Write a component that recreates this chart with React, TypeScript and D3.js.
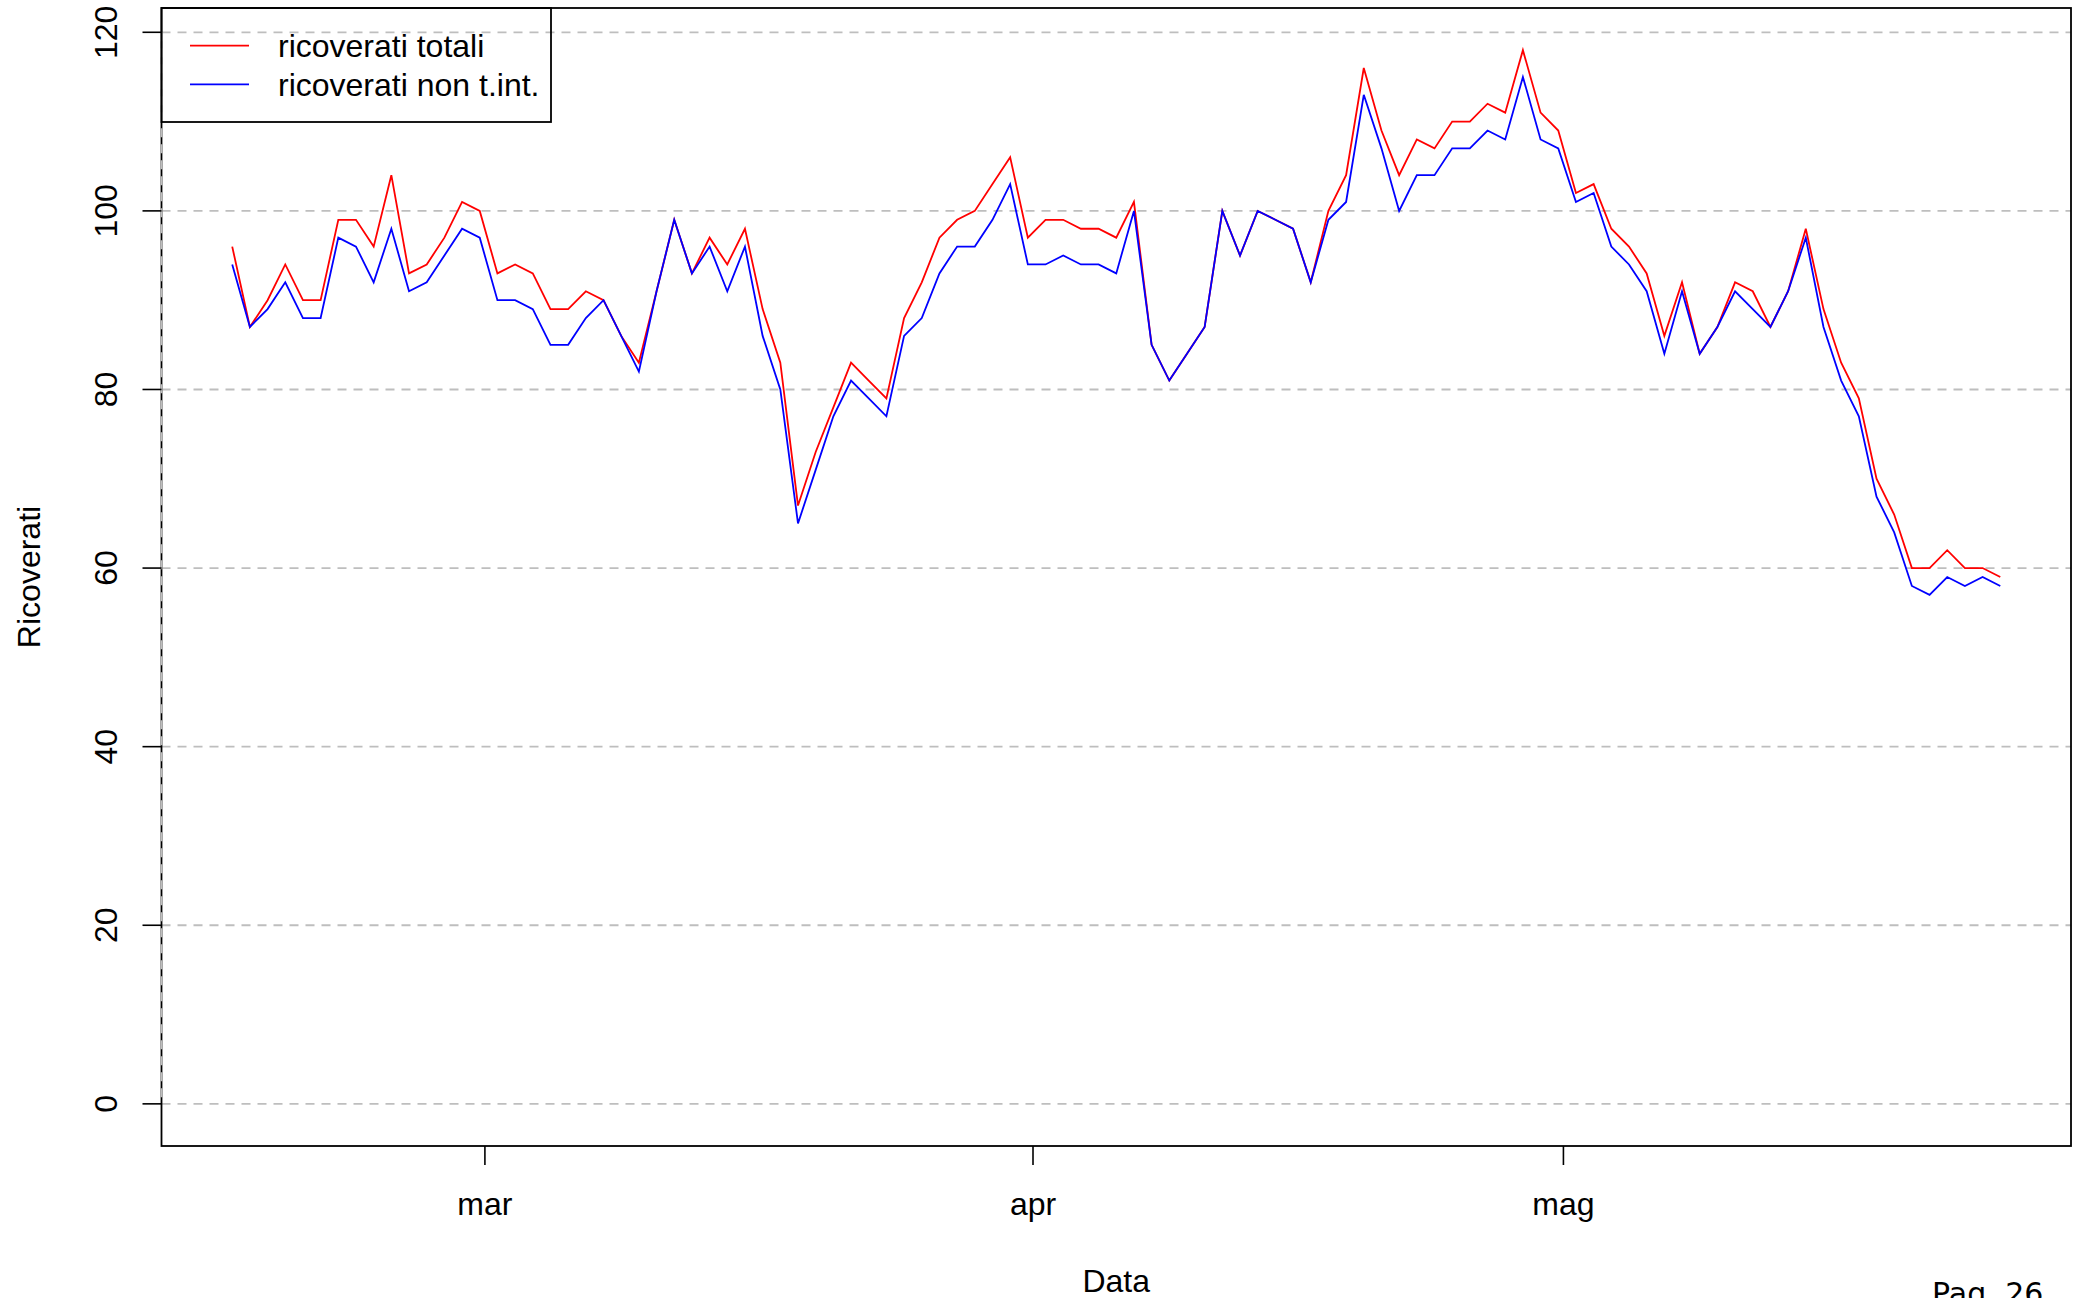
import React from "react";
import * as d3 from "d3";

// First observation: 14 Feb 2021, 17:00; one observation per day
const startDate = new Date(Date.UTC(2021, 1, 14, 17, 0, 0));

const ricoveratiTotali: number[] = [
  96, 87, 90, 94, 90, 90, 99, 99, 96, 104,
  93, 94, 97, 101, 100, 93, 94, 93, 89, 89,
  91, 90, 86, 83, 91, 99, 93, 97, 94, 98,
  89, 83, 67, 73, 78, 83, 81, 79, 88, 92,
  97, 99, 100, 103, 106, 97, 99, 99, 98, 98,
  97, 101, 85, 81, 84, 87, 100, 95, 100, 99,
  98, 92, 100, 104, 116, 109, 104, 108, 107, 110,
  110, 112, 111, 118, 111, 109, 102, 103, 98, 96,
  93, 86, 92, 84, 87, 92, 91, 87, 91, 98,
  89, 83, 79, 70, 66, 60, 60, 62, 60, 60,
  59,
];

const ricoveratiNonTInt: number[] = [
  94, 87, 89, 92, 88, 88, 97, 96, 92, 98,
  91, 92, 95, 98, 97, 90, 90, 89, 85, 85,
  88, 90, 86, 82, 91, 99, 93, 96, 91, 96,
  86, 80, 65, 71, 77, 81, 79, 77, 86, 88,
  93, 96, 96, 99, 103, 94, 94, 95, 94, 94,
  93, 100, 85, 81, 84, 87, 100, 95, 100, 99,
  98, 92, 99, 101, 113, 107, 100, 104, 104, 107,
  107, 109, 108, 115, 108, 107, 101, 102, 96, 94,
  91, 84, 91, 84, 87, 91, 89, 87, 91, 97,
  87, 81, 77, 68, 64, 58, 57, 59, 58, 59,
  58,
];

const yTicks: number[] = [0, 20, 40, 60, 80, 100, 120];
const monthTicks: Date[] = [
  new Date(Date.UTC(2021, 2, 1)),
  new Date(Date.UTC(2021, 3, 1)),
  new Date(Date.UTC(2021, 4, 1)),
];
const monthLabels: string[] = ["mar", "apr", "mag"];
const seriesNames: string[] = ["ricoverati totali", "ricoverati non t.int."];
const seriesColors: string[] = ["#ff0000", "#0000ff"];

const W = 2084;
const H = 1298;
const plotLeft = 161.5;
const plotRight = 2071;
const plotTop = 8;
const plotBottom = 1146;
const FONT = "'Liberation Sans', Arial, Helvetica, sans-serif";

export default function App() {
  const dates = ricoveratiTotali.map((_, i) => d3.utcDay.offset(startDate, i));
  const first = dates[0];
  const last = dates[dates.length - 1];
  const spanDays = (last.getTime() - first.getTime()) / 86400000;
  const padDays = spanDays * 0.04;

  const x = d3
    .scaleUtc()
    .domain([
      new Date(first.getTime() - padDays * 86400000),
      new Date(last.getTime() + padDays * 86400000),
    ])
    .range([plotLeft, plotRight]);

  const yMax = d3.max(ricoveratiTotali) as number;
  const yPad = yMax * 0.04;
  const y = d3.scaleLinear().domain([-yPad, yMax + yPad]).range([plotBottom, plotTop]);

  const line = d3
    .line<number>()
    .x((_, i) => x(dates[i]))
    .y((d) => y(d));

  const series = [ricoveratiTotali, ricoveratiNonTInt];

  const legendX = plotLeft;
  const legendY = plotTop;
  const legendW = 551 - plotLeft;
  const legendH = 122 - plotTop;
  const legendRows = [45.7, 84.3];

  return (
    <svg
      width={W}
      height={H}
      viewBox={`0 0 ${W} ${H}`}
      style={{ position: "absolute", left: 0, top: 0, background: "#ffffff" }}
      fontFamily={FONT}
    >
      <rect x={0} y={0} width={W} height={H} fill="#ffffff" />

      {/* horizontal grid */}
      {yTicks.map((t) => (
        <line
          key={"g" + t}
          x1={plotLeft}
          x2={plotRight}
          y1={y(t)}
          y2={y(t)}
          stroke="#bebebe"
          strokeWidth={1.8}
          strokeDasharray="9,7"
        />
      ))}

      {/* data lines */}
      {series.map((s, k) => (
        <path
          key={"s" + k}
          d={line(s) || ""}
          fill="none"
          stroke={seriesColors[k]}
          strokeWidth={1.8}
          strokeLinejoin="miter"
        />
      ))}

      {/* plot box */}
      <rect
        x={plotLeft}
        y={plotTop}
        width={plotRight - plotLeft}
        height={plotBottom - plotTop}
        fill="none"
        stroke="#000"
        strokeWidth={1.8}
      />
      {/* dashed vertical grid over left border */}
      <line
        x1={plotLeft}
        x2={plotLeft}
        y1={y(120)}
        y2={y(0)}
        stroke="#bebebe"
        strokeWidth={1.8}
        strokeDasharray="9,7"
      />

      {/* y axis */}
      {yTicks.map((t) => (
        <g key={"yt" + t}>
          <line x1={plotLeft - 19} x2={plotLeft} y1={y(t)} y2={y(t)} stroke="#000" strokeWidth={1.6} />
          <text
            transform={`translate(117, ${y(t)}) rotate(-90)`}
            textAnchor="middle"
            fontSize={32}
            fill="#000"
          >
            {t}
          </text>
        </g>
      ))}

      {/* x axis */}
      {monthTicks.map((m, i) => (
        <g key={"xt" + i}>
          <line x1={x(m)} x2={x(m)} y1={plotBottom} y2={plotBottom + 19} stroke="#000" strokeWidth={1.6} />
          <text x={x(m)} y={1215} textAnchor="middle" fontSize={32} fill="#000">
            {monthLabels[i]}
          </text>
        </g>
      ))}

      {/* axis titles */}
      <text x={(plotLeft + plotRight) / 2} y={1292} textAnchor="middle" fontSize={32} fill="#000">
        Data
      </text>
      <text
        transform={`translate(40, ${(plotTop + plotBottom) / 2}) rotate(-90)`}
        textAnchor="middle"
        fontSize={32}
        fill="#000"
      >
        Ricoverati
      </text>

      {/* legend */}
      <rect x={legendX} y={legendY} width={legendW} height={legendH} fill="none" stroke="#000" strokeWidth={1.8} />
      {seriesNames.map((n, i) => (
        <g key={"lg" + i}>
          <line x1={190} x2={249} y1={legendRows[i]} y2={legendRows[i]} stroke={seriesColors[i]} strokeWidth={1.8} />
          <text x={278} y={legendRows[i] + 11.5} fontSize={32} fill="#000">
            {n}
          </text>
        </g>
      ))}

      {/* page number */}
      <text x={1932} y={1304} fontSize={30} fontFamily="'DejaVu Sans', sans-serif" fill="#000">
        Pag. 26
      </text>
    </svg>
  );
}
